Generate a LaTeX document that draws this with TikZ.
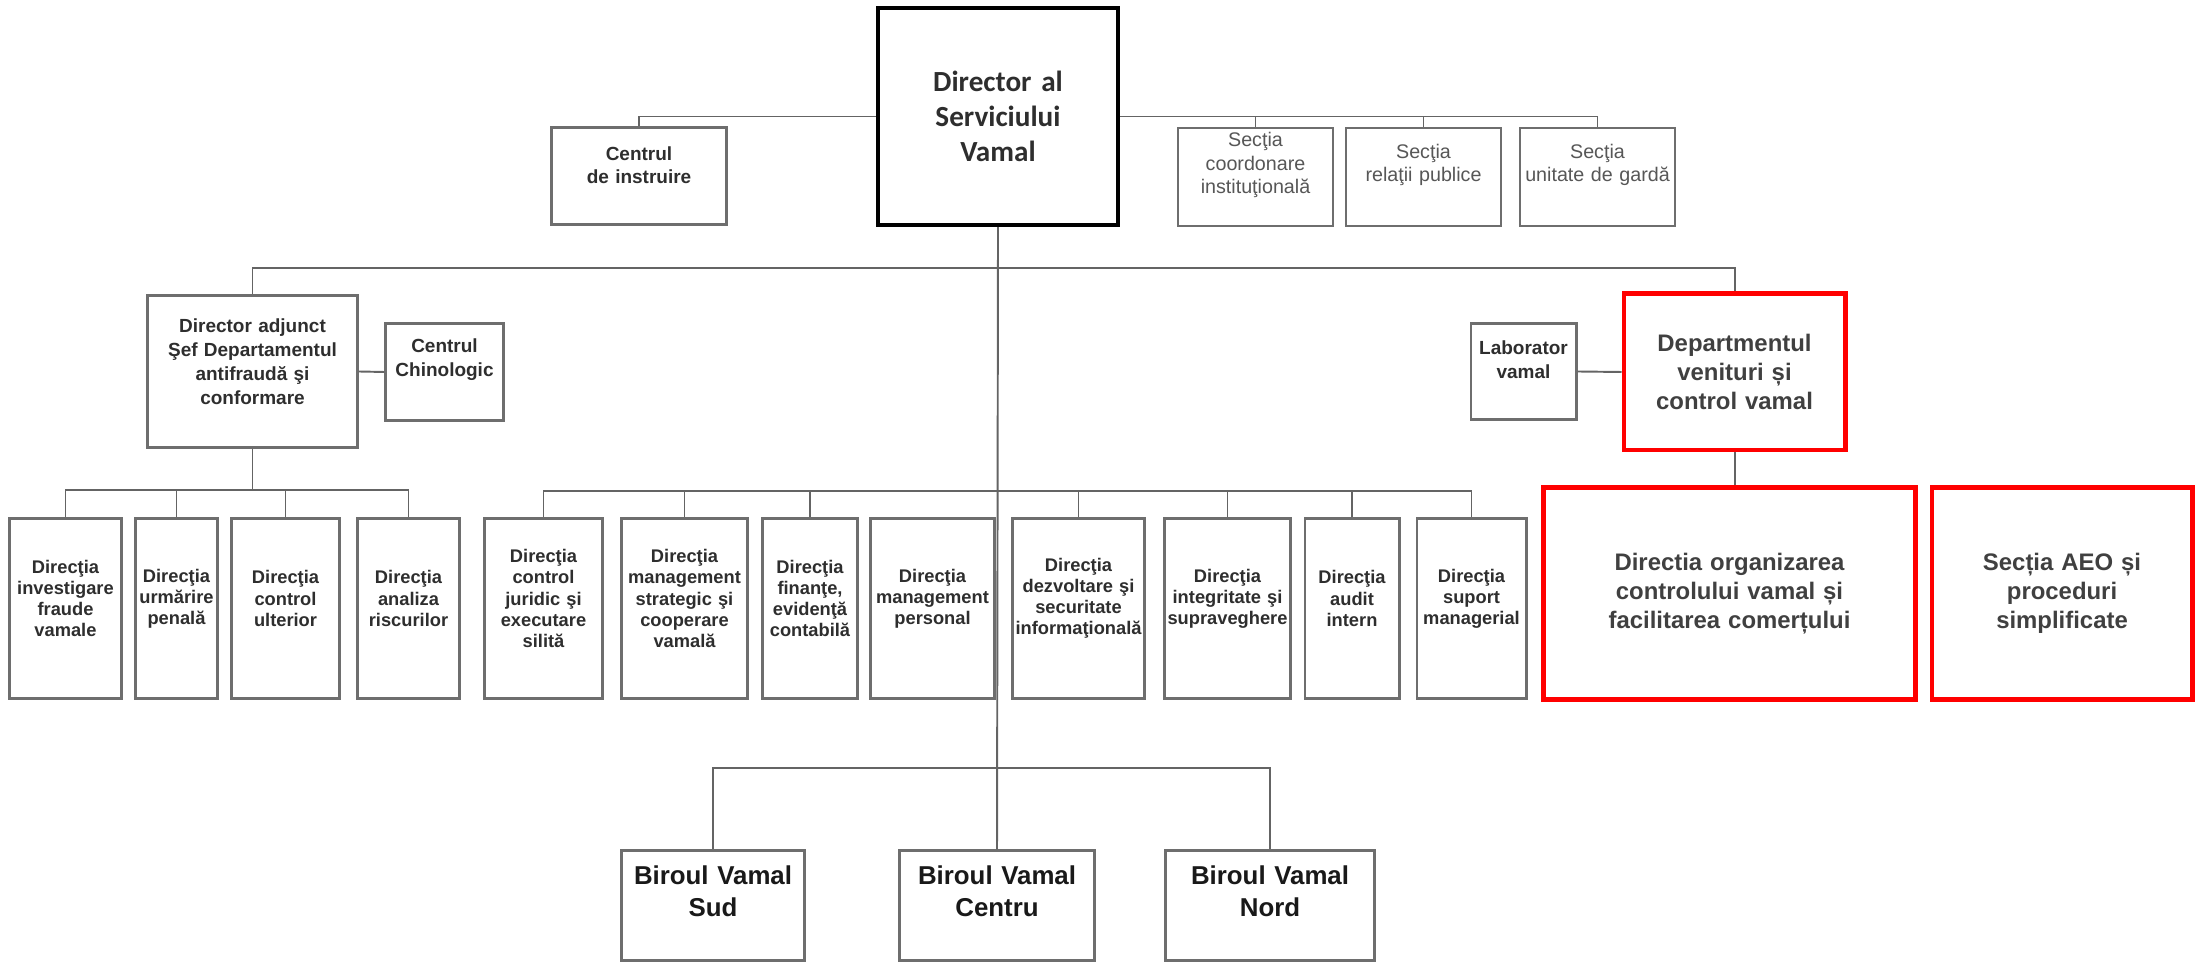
\documentclass[tikz,border=0pt]{standalone}
\usepackage{fontspec}
\setmainfont{Liberation Sans}
\newfontfamily\calibri{Carlito}

\definecolor{linegray}{HTML}{646464}
\definecolor{boxgray}{HTML}{6E6E6E}
\definecolor{txtgray}{HTML}{2E2E2E}
\definecolor{secgray}{HTML}{575757}
\definecolor{redtxt}{HTML}{404040}
\definecolor{vred}{HTML}{FF0000}

\tikzset{
  conn/.style={draw=linegray, line width=0.55pt},
  wh/.style 2 args={minimum width=#1cm, text width=#1cm, minimum height=#2cm},
  lift/.style={execute at end node={\par\vspace*{#1}}},
  lift/.default=0.2cm,
  gbox/.style={draw=boxgray, line width=0.85pt, fill=white, inner sep=0pt, align=center,
    text=txtgray, font=\bfseries\fontsize{5.2pt}{6pt}\selectfont},
  hbox/.style={gbox, font=\bfseries\fontsize{5.4pt}{6.8pt}\selectfont},
  sbox/.style={draw=boxgray, line width=0.6pt, fill=white, inner sep=0pt, align=center,
    text=secgray, font=\fontsize{5.6pt}{6.6pt}\selectfont},
  dirbox/.style={draw=black, line width=1.15pt, fill=white, inner sep=0pt, align=center,
    text=txtgray, font=\calibri\bfseries\fontsize{8.3pt}{10pt}\selectfont},
  redbox/.style={draw=vred, line width=1.4pt, fill=white, inner sep=0pt, align=center,
    text=redtxt, font=\bfseries\fontsize{6.8pt}{8.2pt}\selectfont},
  birbox/.style={gbox, text=black!90, font=\bfseries\fontsize{7.35pt}{9.1pt}\selectfont}
}

\begin{document}
\begin{tikzpicture}[x=0.01cm, y=-0.01cm]
    \useasboundingbox (0,0) rectangle (2195,962);

    % top level
    \node[dirbox, wh={2.40}{2.17}] (dir) at (998,116.5) {Director al\\Serviciului\\Vamal};
    \node[hbox, wh={1.74}{0.96}, lift=0.22cm, font=\bfseries\fontsize{5.4pt}{6.5pt}\selectfont] (instr) at (639,176) {Centrul\\de instruire};
    \node[sbox, wh={1.55}{0.98}, lift=0.24cm] (sec1) at (1255.5,177) {Secţia\\coordonare\\instituţională};
    \node[sbox, wh={1.55}{0.98}, lift=0.24cm] (sec2) at (1423.5,177) {Secţia\\relaţii publice};
    \node[sbox, wh={1.55}{0.98}, lift=0.24cm] (sec3) at (1597.5,177) {Secţia\\unitate de gardă};

    % departments
    \node[hbox, wh={2.09}{1.51}, lift] (adj) at (252.5,371.5) {Director adjunct\\Şef Departamentul\\antifraudă şi\\conformare};
    \node[hbox, wh={1.17}{0.96}, lift=0.24cm] (chin) at (444.5,372) {Centrul\\Chinologic};
    \node[hbox, wh={1.05}{0.95}, lift=0.24cm] (lab) at (1523.5,371.5) {Laborator\\vamal};
    \node[redbox, wh={2.21}{1.56}] (dept) at (1734.5,372) {Departmentul\\venituri și\\control vamal};

    % directions
    \node[gbox, wh={1.11}{1.79}, lift] (l1) at (65.5,608.5) {Direcţia\\investigare\\fraude\\vamale};
    \node[gbox, wh={0.81}{1.79}, lift] (l2) at (176.5,608.5) {Direcţia\\urmărire\\penală};
    \node[gbox, wh={1.07}{1.79}, lift] (l3) at (285.5,608.5) {Direcţia\\control\\ulterior};
    \node[gbox, wh={1.01}{1.79}, lift] (l4) at (408.5,608.5) {Direcţia\\analiza\\riscurilor};

    \node[gbox, wh={1.17}{1.79}, lift] (m1) at (543.5,608.5) {Direcţia\\control\\juridic şi\\executare\\silită};
    \node[gbox, wh={1.25}{1.79}, lift] (m2) at (684.5,608.5) {Direcţia\\management\\strategic şi\\cooperare\\vamală};
    \node[gbox, wh={0.94}{1.79}, lift] (m3) at (810,608.5) {Direcţia\\finanţe,\\evidenţă\\contabilă};
    \node[gbox, wh={1.23}{1.79}, lift] (m4) at (932.5,608.5) {Direcţia\\management\\personal};
    \node[gbox, wh={1.31}{1.79}, lift] (m5) at (1078.5,608.5) {Direcţia\\dezvoltare şi\\securitate\\informaţională};
    \node[gbox, wh={1.25}{1.79}, lift] (m6) at (1227.5,608.5) {Direcţia\\integritate şi\\supraveghere};
    \node[gbox, wh={0.94}{1.79}, lift] (m7) at (1352,608.5) {Direcţia\\audit\\intern};
    \node[gbox, wh={1.09}{1.79}, lift] (m8) at (1471.5,608.5) {Direcţia\\suport\\managerial};

    \node[redbox, wh={3.71}{2.11}] (r1) at (1729.5,593.5) {Directia organizarea\\controlului vamal și\\facilitarea comerțului};
    \node[redbox, wh={2.60}{2.11}] (r2) at (2062,593.5) {Secția AEO și\\proceduri\\simplificate};

    % customs offices
    \node[birbox, wh={1.82}{1.09}, lift=0.28cm] (b1) at (713,905.5) {Biroul Vamal\\Sud};
    \node[birbox, wh={1.94}{1.09}, lift=0.28cm] (b2) at (997,905.5) {Biroul Vamal\\Centru};
    \node[birbox, wh={2.08}{1.09}, lift=0.28cm] (b3) at (1270,905.5) {Biroul Vamal\\Nord};

    \coordinate (busA) at (998,268);
    \coordinate (busL) at (252.5,490);
    \coordinate (busM) at (998,491);
    \coordinate (busB) at (998,768);

    \draw[conn] (instr.north) |- (dir.west);
    \draw[conn] (dir.east) -| (sec3.north);
    \draw[conn] (sec1.north) -- (sec1.north |- dir.east);
    \draw[conn] (sec2.north) -- (sec2.north |- dir.east);

    \draw[conn] (dir.south) -- (b2.north);
    \draw[conn] (adj.north) |- (busA) -| (dept.north);
    \draw[conn] (adj.east) -- (chin.west);
    \draw[conn] (lab.east) -- (dept.west);
    \draw[conn] (dept.south) -- (dept.south |- r1.north);

    \draw[conn] (adj.south) -- (busL);
    \draw[conn] (l1.north) |- (busL) -| (l4.north);
    \foreach \n in {l2,l3}
        \draw[conn] (\n.north) -- (\n.north |- busL);

    \draw[conn] (m1.north) |- (busM) -| (m8.north);
    \foreach \n in {m2,m3,m5,m6,m7}
        \draw[conn] (\n.north) -- (\n.north |- busM);

    \draw[conn] (b1.north) |- (busB) -| (b3.north);

\end{tikzpicture}
\end{document}
